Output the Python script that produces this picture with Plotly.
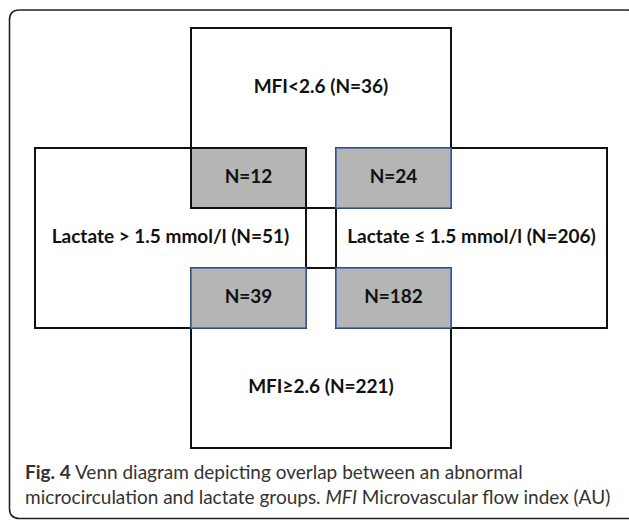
import plotly.graph_objects as go

# ---------------- data ----------------
set_names = ["MFI<2.6", "MFI≥2.6", "Lactate > 1.5 mmol/l", "Lactate ≤ 1.5 mmol/l"]
set_counts = [36, 221, 51, 206]

overlap_mfi = ["MFI<2.6", "MFI<2.6", "MFI≥2.6", "MFI≥2.6"]
overlap_lactate = ["Lactate > 1.5 mmol/l", "Lactate ≤ 1.5 mmol/l",
                   "Lactate > 1.5 mmol/l", "Lactate ≤ 1.5 mmol/l"]
overlap_counts = [12, 24, 39, 182]

caption_title = "Fig. 4"
caption_line1 = "Venn diagram depicting overlap between an abnormal"
caption_line2a = "microcirculation and lactate groups."
caption_abbr = "MFI"
caption_line2b = "Microvascular flow index (AU)"

# ---------------- layout geometry (page-pixel-like data units) ----------------
W, H = 629, 520
box_geom = {
    "MFI<2.6": (191, 28, 451, 208),
    "MFI≥2.6": (191, 268, 451, 448),
    "Lactate > 1.5 mmol/l": (35, 148, 306, 328),
    "Lactate ≤ 1.5 mmol/l": (336, 148, 607, 328),
}
label_pos = {
    "MFI<2.6": (321, 88),
    "MFI≥2.6": (321, 388),
    "Lactate > 1.5 mmol/l": (170.5, 238),
    "Lactate ≤ 1.5 mmol/l": (471.5, 238),
}
overlap_border = ["#111111", "#41679f", "#41679f", "#41679f"]
FILL = "#b5b5b5"
LABEL_FONT = dict(family="Lato", size=19, color="#111111", weight="bold")

fig = go.Figure()
shapes = []

# outer rounded panel
x0, y0, x1, y1, r = 9.5, 10, 637, 518.5, 10
path = (f"M {x0+r},{y0} L {x1-r},{y0} Q {x1},{y0} {x1},{y0+r} "
        f"L {x1},{y1-r} Q {x1},{y1} {x1-r},{y1} L {x0+r},{y1} "
        f"Q {x0},{y1} {x0},{y1-r} L {x0},{y0+r} Q {x0},{y0} {x0+r},{y0} Z")
shapes.append(dict(type="path", path=path, xref="x", yref="y",
                   line=dict(color="#222222", width=1.6), layer="below"))

# main set boxes
for name in set_names:
    bx0, by0, bx1, by1 = box_geom[name]
    shapes.append(dict(type="rect", xref="x", yref="y", x0=bx0, y0=by0, x1=bx1, y1=by1,
                       line=dict(color="#111111", width=2), fillcolor="rgba(0,0,0,0)",
                       layer="below"))

# overlaps (intersection of boxes)
ov_x, ov_y, ov_text = [], [], []
for m, l, n, bc in zip(overlap_mfi, overlap_lactate, overlap_counts, overlap_border):
    a, b = box_geom[m], box_geom[l]
    ix0, iy0 = max(a[0], b[0]), max(a[1], b[1])
    ix1, iy1 = min(a[2], b[2]), min(a[3], b[3])
    shapes.append(dict(type="rect", xref="x", yref="y", x0=ix0, y0=iy0, x1=ix1, y1=iy1,
                       line=dict(color=bc, width=2 if bc == "#111111" else 1.6),
                       fillcolor=FILL, layer="below"))
    ov_x.append((ix0 + ix1) / 2)
    ov_y.append((iy0 + iy1) / 2)
    ov_text.append(f"N={n}")

# set labels
fig.add_trace(go.Scatter(
    x=[label_pos[s][0] for s in set_names],
    y=[label_pos[s][1] for s in set_names],
    text=[f"{s} (N={c})" for s, c in zip(set_names, set_counts)],
    mode="text", textposition="middle center", textfont=LABEL_FONT,
    hoverinfo="skip", showlegend=False))

fig.add_trace(go.Scatter(
    x=ov_x, y=ov_y, text=ov_text,
    mode="text", textposition="middle center", textfont=LABEL_FONT,
    hoverinfo="skip", showlegend=False))

# caption
fig.add_annotation(
    x=23, y=484, xref="x", yref="y", xanchor="left", yanchor="middle", align="left",
    showarrow=False,
    text=f"<b>{caption_title}</b> {caption_line1}<br>{caption_line2a} <i>{caption_abbr}</i> {caption_line2b}",
    font=dict(family="Lato", size=19, color="#333333"))

fig.update_layout(
    width=W, height=H, margin=dict(l=0, r=0, t=0, b=0),
    paper_bgcolor="white", plot_bgcolor="white",
    shapes=shapes,
    xaxis=dict(range=[0, W], visible=False, fixedrange=True),
    yaxis=dict(range=[H, 0], visible=False, fixedrange=True),
)
fig.write_html("out.html",
               config={"displayModeBar": False, "staticPlot": True},
               post_script="document.body.style.margin='0';document.body.style.overflow='hidden';")
